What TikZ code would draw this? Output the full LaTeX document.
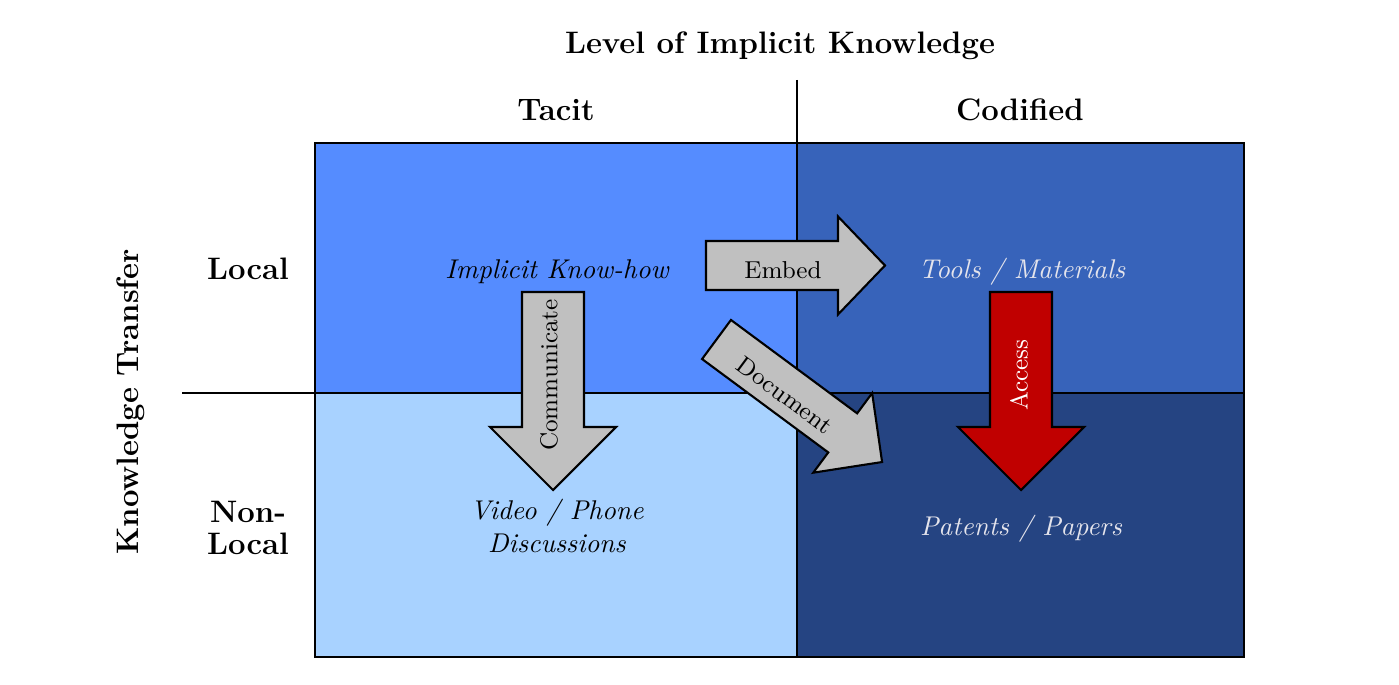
\documentclass[tikz,border=0pt]{standalone}
\usepackage{tikz}
\definecolor{qTL}{RGB}{85,140,255}
\definecolor{qTR}{RGB}{55,99,186}
\definecolor{qBL}{RGB}{168,210,255}
\definecolor{qBR}{RGB}{37,68,130}
\definecolor{arrgray}{RGB}{192,192,192}
\definecolor{arrred}{RGB}{192,0,0}
\definecolor{lighttxt}{RGB}{228,228,236}
\begin{document}
\begin{tikzpicture}[x=0.38pt,y=-0.38pt,
  lbl/.style={font=\fontsize{11.8}{12.3}\selectfont\bfseries, inner sep=0pt, align=center},
  itl/.style={font=\fontsize{10.3}{12.4}\selectfont\itshape, inner sep=0pt, align=center},
  arrtxt/.style={font=\fontsize{9.3}{11}\selectfont, inner sep=0pt},
  blockarrow/.style={draw=black, line width=0.8pt, line join=miter},
  gridline/.style={line width=0.7pt}]
\useasboundingbox (0,0) rectangle (1399,685);
% quadrants
\fill[qTL] (315,143) rectangle (797,393);
\fill[qTR] (797,143) rectangle (1244,393);
\fill[qBL] (315,393) rectangle (797,657);
\fill[qBR] (797,393) rectangle (1244,657);
\draw[gridline] (315,143) rectangle (1244,657);
\draw[gridline] (797,80) -- (797,657);
\draw[gridline] (182,393) -- (1244,393);
% labels
\node[lbl, anchor=base] (title) at (780,54) {Level of Implicit Knowledge};
\node[lbl, anchor=base] (tacit) at (556,121) {Tacit};
\node[lbl, anchor=base] (codified) at (1020,121) {Codified};
\node[lbl, anchor=base] (local) at (248,279) {Local};
\node[lbl] (nonlocal) at (248,528) {Non-\\Local};
\node[lbl, rotate=90] (transfer) at (131,402) {Knowledge Transfer};
% quadrant texts
\node[itl, anchor=base] (knowhow) at (557,278) {Implicit Know-how};
\node[itl, anchor=base, text=lighttxt] (tools) at (1022,278) {Tools / Materials};
\node[itl] (video) at (557,526) {Video / Phone\\Discussions};
\node[itl, anchor=base, text=lighttxt] (patents) at (1021,535) {Patents / Papers};
% block arrows
\draw[blockarrow, fill=arrgray] (706,241) -- (838,241) -- (838,216.5) -- (885,265.5)
  -- (838,314.5) -- (838,290) -- (706,290) -- cycle;
\draw[blockarrow, fill=arrgray] (522,292) -- (584,292) -- (584,427) -- (616,427)
  -- (553,490) -- (490,427) -- (522,427) -- cycle;
\draw[blockarrow, fill=arrred] (990,292) -- (1052,292) -- (1052,427) -- (1084,427)
  -- (1021,490) -- (958,427) -- (990,427) -- cycle;
\begin{scope}[shift={(716.5,339.5)}, rotate=-36.5]
\draw[blockarrow, fill=arrgray] (0,-24.3) -- (157,-24.3) -- (157,-49.5) -- (206,0)
  -- (157,49.5) -- (157,24.3) -- (0,24.3) -- cycle;
\end{scope}
% arrow texts
\node[arrtxt] (embed) at (783,270) {Embed};
\node[arrtxt, rotate=90] (communicate) at (549,375) {Communicate};
\node[arrtxt, rotate=90, text=white] (access) at (1019,375) {Access};
\node[arrtxt, rotate=-36.5] (document) at (785,395) {Document};
\end{tikzpicture}
\end{document}
